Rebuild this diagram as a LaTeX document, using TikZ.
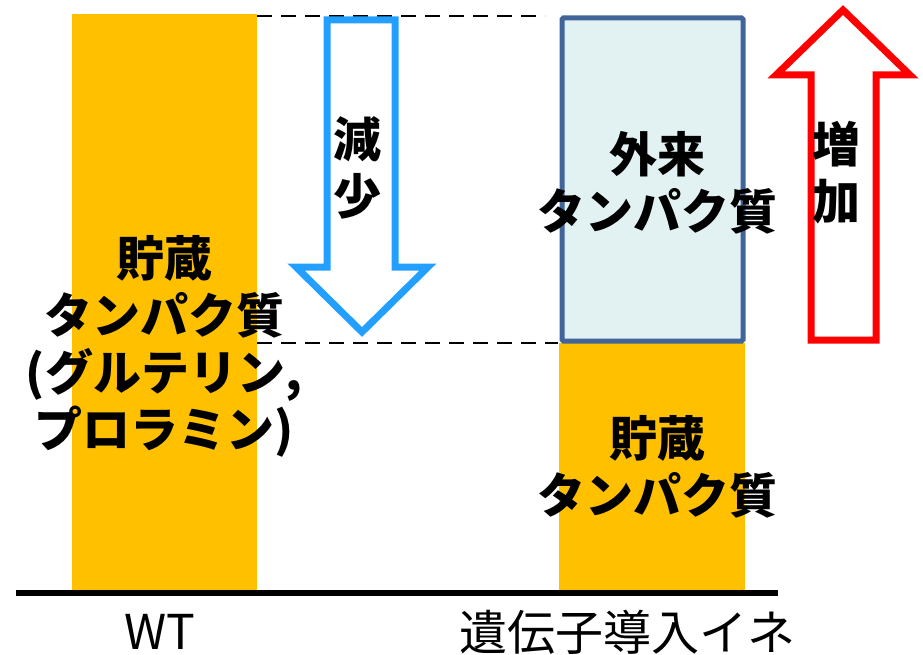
\documentclass[tikz,border=0pt]{standalone}
\usepackage{fontspec}
\setmainfont{Noto Sans CJK JP}
\definecolor{barorange}{RGB}{255,192,0}
\definecolor{boxfill}{RGB}{226,242,243}
\definecolor{boxline}{RGB}{65,101,154}
\definecolor{arrowblue}{RGB}{35,159,255}
\definecolor{arrowred}{RGB}{255,0,0}
\begin{document}
\begin{tikzpicture}[x=1pt,y=-1pt,
  bar/.style={fill=barorange,draw=none},
  lbl/.style={font=\fontsize{48}{57}\selectfont\bfseries,align=center,inner sep=0pt},
  axislbl/.style={font=\fontsize{48}{56}\selectfont,inner sep=0pt},
  guide/.style={line width=1.8pt,dash pattern=on 15pt off 9pt},
  bigarrow/.style={line width=7pt,line join=miter,fill=white}]
\useasboundingbox (0,0) rectangle (923,655);
% bars
\fill[bar] (72,14) rectangle (257,590);
\fill[bar] (559,343) rectangle (745,590);
\filldraw[fill=boxfill,draw=boxline,line width=5pt,rounded corners=1.5pt] (562,18) rectangle (743,341);
% baseline
\draw[line width=6pt] (16,593) -- (778,593);
% dashed guides
\coordinate (t1) at (257,16);
\coordinate (t2) at (545,16);
\coordinate (b1) at (257,343);
\coordinate (b2) at (558,343);
\draw[guide] (t1) -- (t2);
\draw[guide] (b1) -- (b2);
% blue arrow down
\draw[bigarrow,draw=arrowblue] (327,20) -- (395,20) -- (395,267) -- (428,267) -- (362,332) -- (296,267) -- (327,267) -- cycle;
% red arrow up
\draw[bigarrow,draw=arrowred] (811,340) -- (876,340) -- (876,75) -- (910,75) -- (843,10) -- (776,75) -- (811,75) -- cycle;
% texts
\node[lbl] (dec) at (357,168) {減\\少};
\node[lbl] (inc) at (836,173) {増\\加};
\node[lbl] (wtstore) at (164,346) {貯蔵\\タンパク質\\(グルテリン,\\プロラミン)};
\node[lbl] (foreign) at (657,183) {外来\\タンパク質};
\node[lbl] (tgstore) at (657,467) {貯蔵\\タンパク質};
\node[axislbl] (wt) at (160,632) {WT};
\node[axislbl] (tg) at (627,632) {遺伝子導入イネ};
\end{tikzpicture}
\end{document}
